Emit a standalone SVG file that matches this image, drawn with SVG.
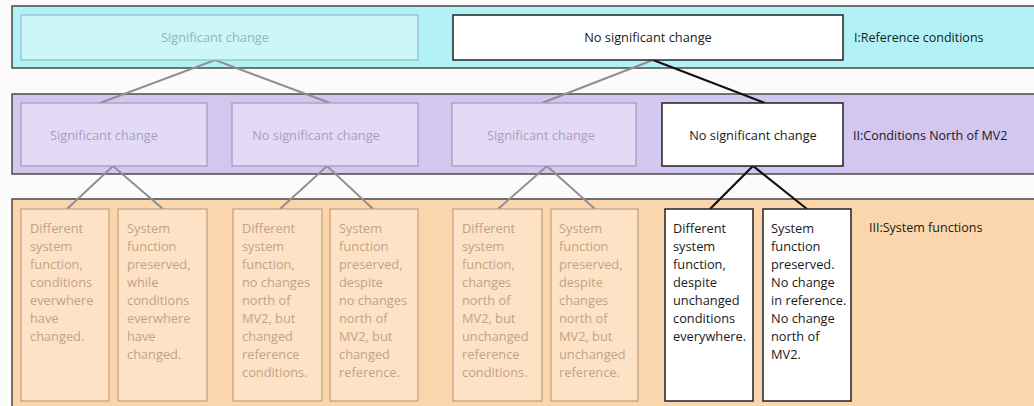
<svg xmlns="http://www.w3.org/2000/svg" width="1034" height="406" viewBox="0 0 1034 406">
  <style>
    text { font-family: "Open Sans", "Noto Sans", sans-serif; font-size: 12.8px; }
    .band { stroke: #4a4a4a; stroke-width: 1.5; }
    .b1 { fill: #b2f2f6; }
    .b2 { fill: #d3c7f0; }
    .b3 { fill: #fbd5ab; }
    .f1 { fill: #ccf6f8; stroke: #93bcc0; stroke-width: 1.2; }
    .f2 { fill: #e3dbf6; stroke: #a597be; stroke-width: 1.2; }
    .f3 { fill: #fde2c6; stroke: #c39e7e; stroke-width: 1.2; }
    .on { fill: #ffffff; stroke: #222222; stroke-width: 1.5; }
    .t1 { fill: #94b5b9; }
    .t2 { fill: #a99bc5; }
    .t3 { fill: #c2a287; }
    .tk { fill: #1a1a1a; }
    .lbl { fill: #1a1a1a; font-size: 12.5px; }
    .c { text-anchor: middle; }
    .grey { stroke: #8f8f8f; stroke-width: 2; fill: none; }
    .black { stroke: #111111; stroke-width: 2.2; fill: none; }
  </style>

  <rect width="1034" height="406" fill="#fbfbfb"/>

  <!-- level bands -->
  <g id="band-reference">
    <rect class="band b1" x="12" y="6" width="1030" height="62"/>
    <text class="lbl" x="854" y="42">I:Reference conditions</text>
  </g>
  <g id="band-north">
    <rect class="band b2" x="12" y="94" width="1030" height="80"/>
    <text class="lbl" x="853" y="140">II:Conditions North of MV2</text>
  </g>
  <g id="band-system">
    <rect class="band b3" x="12" y="199" width="1030" height="215"/>
    <text class="lbl" x="869" y="232">III:System functions</text>
  </g>

  <!-- connectors -->
  <g id="connectors">
    <polyline class="grey" points="100,103 215,60 330,103"/>
    <line class="grey" x1="653" y1="60" x2="542" y2="103"/>
    <line class="black" x1="653" y1="60" x2="765" y2="103"/>
    <polyline class="grey" points="67,209 113,166 163,209"/>
    <polyline class="grey" points="280,209 327,166 373,209"/>
    <polyline class="grey" points="498,209 547,166 595,209"/>
    <polyline class="black" points="710,209 753,166 807,209"/>
  </g>

  <!-- level I -->
  <g id="ref-significant">
    <rect class="f1" x="21" y="15" width="397" height="45"/>
    <text class="t1 c" x="215" y="42">Significant change</text>
  </g>
  <g id="ref-no-significant">
    <rect class="on" x="453" y="15" width="390" height="45"/>
    <text class="tk c" x="648" y="42">No significant change</text>
  </g>

  <!-- level II -->
  <g id="north-1-significant">
    <rect class="f2" x="21" y="103" width="186" height="63"/>
    <text class="t2 c" x="104" y="140">Significant change</text>
  </g>
  <g id="north-1-no-significant">
    <rect class="f2" x="232" y="103" width="186" height="63"/>
    <text class="t2 c" x="316" y="140">No significant change</text>
  </g>
  <g id="north-2-significant">
    <rect class="f2" x="452" y="103" width="184" height="63"/>
    <text class="t2 c" x="541" y="140">Significant change</text>
  </g>
  <g id="north-2-no-significant">
    <rect class="on" x="662" y="103" width="181" height="63"/>
    <text class="tk c" x="753" y="140">No significant change</text>
  </g>

  <!-- level III -->
  <g id="sys-a">
    <rect class="f3" x="21" y="209" width="88" height="192"/>
    <text class="t3" x="30" y="233">
      <tspan x="30">Different</tspan><tspan x="30" dy="18">system</tspan><tspan x="30" dy="18">function,</tspan><tspan x="30" dy="18">conditions</tspan><tspan x="30" dy="18">everwhere</tspan><tspan x="30" dy="18">have</tspan><tspan x="30" dy="18">changed.</tspan>
    </text>
  </g>
  <g id="sys-b">
    <rect class="f3" x="118" y="209" width="89" height="192"/>
    <text class="t3" x="127" y="233">
      <tspan x="127">System</tspan><tspan x="127" dy="18">function</tspan><tspan x="127" dy="18">preserved,</tspan><tspan x="127" dy="18">while</tspan><tspan x="127" dy="18">conditions</tspan><tspan x="127" dy="18">everwhere</tspan><tspan x="127" dy="18">have</tspan><tspan x="127" dy="18">changed.</tspan>
    </text>
  </g>
  <g id="sys-c">
    <rect class="f3" x="233" y="209" width="89" height="192"/>
    <text class="t3" x="242" y="233">
      <tspan x="242">Different</tspan><tspan x="242" dy="18">system</tspan><tspan x="242" dy="18">function,</tspan><tspan x="242" dy="18">no changes</tspan><tspan x="242" dy="18">north of</tspan><tspan x="242" dy="18">MV2, but</tspan><tspan x="242" dy="18">changed</tspan><tspan x="242" dy="18">reference</tspan><tspan x="242" dy="18">conditions.</tspan>
    </text>
  </g>
  <g id="sys-d">
    <rect class="f3" x="330" y="209" width="88" height="192"/>
    <text class="t3" x="339" y="233">
      <tspan x="339">System</tspan><tspan x="339" dy="18">function</tspan><tspan x="339" dy="18">preserved,</tspan><tspan x="339" dy="18">despite</tspan><tspan x="339" dy="18">no changes</tspan><tspan x="339" dy="18">north of</tspan><tspan x="339" dy="18">MV2, but</tspan><tspan x="339" dy="18">changed</tspan><tspan x="339" dy="18">reference.</tspan>
    </text>
  </g>
  <g id="sys-e">
    <rect class="f3" x="453" y="209" width="89" height="192"/>
    <text class="t3" x="462" y="233">
      <tspan x="462">Different</tspan><tspan x="462" dy="18">system</tspan><tspan x="462" dy="18">function,</tspan><tspan x="462" dy="18">changes</tspan><tspan x="462" dy="18">north of</tspan><tspan x="462" dy="18">MV2, but</tspan><tspan x="462" dy="18">unchanged</tspan><tspan x="462" dy="18">reference</tspan><tspan x="462" dy="18">conditions.</tspan>
    </text>
  </g>
  <g id="sys-f">
    <rect class="f3" x="551" y="209" width="87" height="192"/>
    <text class="t3" x="559" y="233">
      <tspan x="559">System</tspan><tspan x="559" dy="18">function</tspan><tspan x="559" dy="18">preserved,</tspan><tspan x="559" dy="18">despite</tspan><tspan x="559" dy="18">changes</tspan><tspan x="559" dy="18">north of</tspan><tspan x="559" dy="18">MV2, but</tspan><tspan x="559" dy="18">unchanged</tspan><tspan x="559" dy="18">reference.</tspan>
    </text>
  </g>
  <g id="sys-g">
    <rect class="on" x="665" y="209" width="88" height="192"/>
    <text class="tk" x="673" y="233">
      <tspan x="673">Different</tspan><tspan x="673" dy="18">system</tspan><tspan x="673" dy="18">function,</tspan><tspan x="673" dy="18">despite</tspan><tspan x="673" dy="18">unchanged</tspan><tspan x="673" dy="18">conditions</tspan><tspan x="673" dy="18">everywhere.</tspan>
    </text>
  </g>
  <g id="sys-h">
    <rect class="on" x="763" y="209" width="88" height="192"/>
    <text class="tk" x="771" y="233">
      <tspan x="771">System</tspan><tspan x="771" dy="18">function</tspan><tspan x="771" dy="18">preserved.</tspan><tspan x="771" dy="18">No change</tspan><tspan x="771" dy="18">in reference.</tspan><tspan x="771" dy="18">No change</tspan><tspan x="771" dy="18">north of</tspan><tspan x="771" dy="18">MV2.</tspan>
    </text>
  </g>
</svg>
